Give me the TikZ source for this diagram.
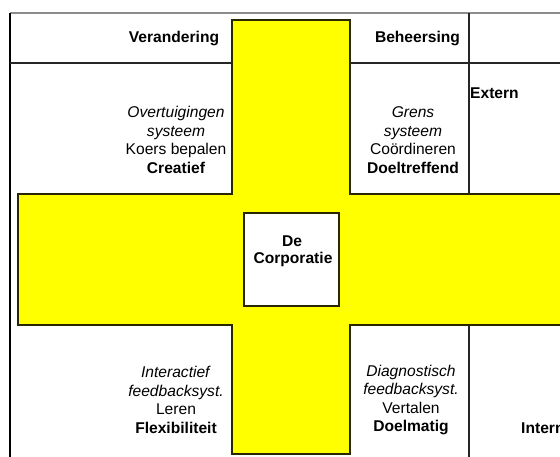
\documentclass[tikz,border=0pt]{standalone}
\usepackage{fontspec}
\setmainfont{Liberation Sans}
\definecolor{crossyellow}{RGB}{255,255,0}
\definecolor{crossedge}{RGB}{40,40,0}
\definecolor{framegray}{RGB}{140,140,140}
\begin{document}
\begin{tikzpicture}[x=1pt,y=-1pt,
  cellline/.style={draw=black!85,line width=1.2pt},
  crossshape/.style={fill=crossyellow,draw=crossedge,line width=1.7pt,line join=miter},
  txt/.style={align=center,inner sep=0pt,font=\fontsize{15.6}{18.6}\selectfont},
  hdr/.style={inner sep=0pt,font=\fontsize{15.6}{18.6}\selectfont\bfseries},
  corebox/.style={fill=white,draw=crossedge,line width=1.5pt}]
\useasboundingbox (0,0) rectangle (560,456);
\clip (0,0) rectangle (560,456);
% outer frame
\draw[framegray,line width=1.4pt] (10,13) -- (580,13);
\draw[black,line width=1.2pt] (10,13) -- (10,470);
% header row and quadrant divider
\draw[cellline] (10,63) -- (232,63);
\draw[cellline] (350,63) -- (580,63);
\draw[cellline] (469,13) -- (469,194);
\draw[cellline] (469,325) -- (469,470);
% yellow cross
\draw[crossshape] (232,20) -- (350,20) -- (350,194) -- (590,194) -- (590,325)
  -- (350,325) -- (350,454) -- (232,454) -- (232,325) -- (18,325) -- (18,194)
  -- (232,194) -- cycle;
% central box
\node[corebox,minimum width=95pt,minimum height=93pt,inner sep=0pt] (core) at (291.5,259.5) {};
\node[hdr] (corede) at (292,241) {De};
\node[hdr] (corecorp) at (293,259.5) {Corporatie};
% headers
\node[hdr] (verandering) at (174,38) {Verandering};
\node[hdr] (beheersing) at (417.5,38) {Beheersing};
\node[hdr,anchor=west] (extern) at (470,93) {Extern};
\node[hdr,anchor=west] (intern) at (521,428) {Intern};
% quadrant texts
\node[txt] (overt) at (176,140) {\textit{Overtuigingen}\\\textit{systeem}\\Koers bepalen\\\textbf{Creatief}};
\node[txt] (grens) at (413,140) {\textit{Grens}\\\textit{systeem}\\Coördineren\\\textbf{Doeltreffend}};
\node[txt] (inter) at (176,400) {\textit{Interactief}\\\textit{feedbacksyst.}\\Leren\\\textbf{Flexibiliteit}};
\node[txt] (diagn) at (411,400) {\textit{Diagnostisch}\\\textit{feedbacksyst.}\\Vertalen\\\textbf{Doelmatig}};
\end{tikzpicture}
\end{document}
